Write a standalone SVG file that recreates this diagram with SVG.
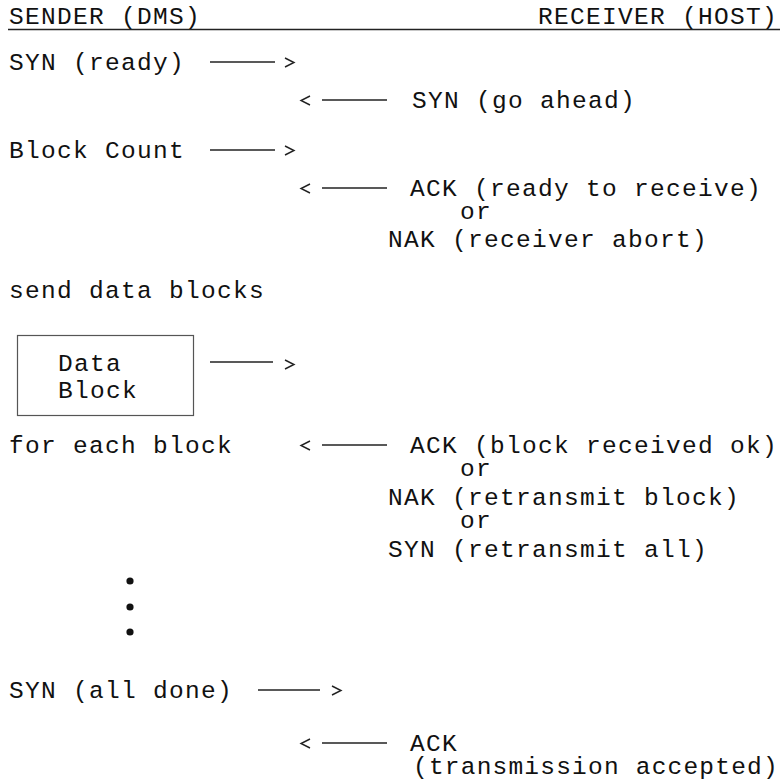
<svg xmlns="http://www.w3.org/2000/svg" width="782" height="780" viewBox="0 0 782 780">
<style>
  text { font-family: "Liberation Mono", "DejaVu Sans Mono", monospace; font-size: 24.5px; letter-spacing: 1.3px; fill: #111; }
  .ln { stroke: #222; stroke-width: 1.4; fill: none; }
  .box { fill: #fff; stroke: #555; stroke-width: 1.2; }
</style>
<rect width="782" height="780" fill="#fff"/>
<g id="header">
  <text x="9" y="24">SENDER (DMS)</text>
  <text x="538" y="24">RECEIVER (HOST)</text>
  <line class="ln" x1="8" y1="29.5" x2="780" y2="29.5"/>
</g>
<g id="msg-syn-ready"><text x="9" y="70">SYN (ready)</text></g>
<g id="msg-syn-go"><text x="412" y="108">SYN (go ahead)</text></g>
<g id="msg-block-count"><text x="9" y="158">Block Count</text></g>
<g id="msg-ack-ready">
  <text x="410" y="196">ACK (ready to receive)</text>
  <text x="460" y="219">or</text>
  <text x="388" y="247">NAK (receiver abort)</text>
</g>
<g id="send-data"><text x="9" y="298">send data blocks</text></g>
<g id="data-block">
  <rect class="box" x="17.5" y="335.5" width="176" height="80"/>
  <text x="58" y="371">Data</text>
  <text x="58" y="398">Block</text>
</g>
<g id="for-each">
  <text x="9" y="453">for each block</text>
  <text x="410" y="453">ACK (block received ok)</text>
  <text x="460" y="476">or</text>
  <text x="388" y="505">NAK (retransmit block)</text>
  <text x="460" y="528">or</text>
  <text x="388" y="557">SYN (retransmit all)</text>
</g>
<g id="dots">
  <circle cx="130" cy="581" r="3.6" fill="#111"/>
  <circle cx="130" cy="607" r="3.6" fill="#111"/>
  <circle cx="130" cy="632" r="3.6" fill="#111"/>
</g>
<g id="msg-all-done"><text x="9" y="698">SYN (all done)</text></g>
<g id="msg-ack-final">
  <text x="410" y="751">ACK</text>
  <text x="413" y="774" textLength="366" lengthAdjust="spacing">(transmission accepted)</text>
</g>
<g id="connectors">
  <line class="ln" x1="210" y1="62" x2="275" y2="62"/><polyline class="ln" points="285,58 294,62.5 285,67"/>
  <polyline class="ln" points="310,96 301,100.5 310,105"/><line class="ln" x1="322" y1="100" x2="387" y2="100"/>
  <line class="ln" x1="210" y1="150" x2="275" y2="150"/><polyline class="ln" points="285,146 294,150.5 285,155"/>
  <polyline class="ln" points="310,184 301,188.5 310,193"/><line class="ln" x1="322" y1="188" x2="387" y2="188"/>
  <line class="ln" x1="210" y1="362" x2="273" y2="362"/><polyline class="ln" points="285,360 294,364.5 285,369"/>
  <polyline class="ln" points="310,441 301,445.5 310,450"/><line class="ln" x1="322" y1="445" x2="387" y2="445"/>
  <line class="ln" x1="258" y1="690" x2="320" y2="690"/><polyline class="ln" points="332,686 341,690.5 332,695"/>
  <polyline class="ln" points="310,739 301,743.5 310,748"/><line class="ln" x1="322" y1="743" x2="387" y2="743"/>
</g>
</svg>
